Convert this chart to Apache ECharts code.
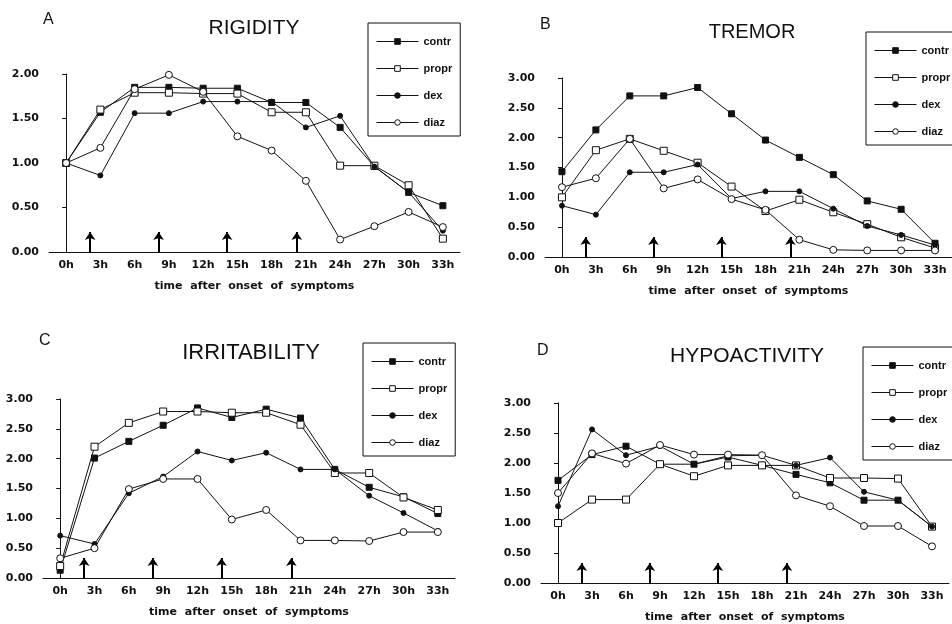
<!DOCTYPE html>
<html>
<head>
<meta charset="utf-8">
<script src="https://cdn.jsdelivr.net/npm/echarts@6/dist/echarts.min.js"></script>
<style>
  html, body { margin: 0; padding: 0; background: #fff; }
  #chart { width: 952px; height: 624px; }
</style>
</head>
<body>
<div id="chart"></div>
<script>
// categories
const hours = ['0h', '3h', '6h', '9h', '12h', '15h', '18h', '21h', '24h', '27h', '30h', '33h']
const groups = ['contr', 'propr', 'dex', 'diaz']
// drug administration times (hours after onset)
const arrowHours = [2.1, 8.1, 14.1, 20.2]

// A - rigidity
const rigContr = [1.00, 1.57, 1.85, 1.85, 1.84, 1.84, 1.68, 1.68, 1.40, 0.96, 0.67, 0.52]
const rigPropr = [1.00, 1.60, 1.79, 1.79, 1.78, 1.78, 1.57, 1.57, 0.97, 0.97, 0.75, 0.15]
const rigDex = [1.00, 0.86, 1.56, 1.56, 1.69, 1.69, 1.69, 1.40, 1.53, 0.96, 0.67, 0.24]
const rigDiaz = [1.00, 1.17, 1.83, 1.99, 1.80, 1.30, 1.14, 0.80, 0.14, 0.29, 0.45, 0.28]

// B - tremor
const treContr = [1.43, 2.13, 2.70, 2.70, 2.84, 2.40, 1.96, 1.67, 1.38, 0.94, 0.80, 0.23]
const trePropr = [1.00, 1.79, 1.98, 1.78, 1.58, 1.18, 0.77, 0.96, 0.75, 0.55, 0.33, 0.15]
const treDex = [0.86, 0.71, 1.42, 1.42, 1.55, 0.98, 1.10, 1.10, 0.81, 0.52, 0.37, 0.20]
const treDiaz = [1.17, 1.32, 1.98, 1.15, 1.30, 0.97, 0.79, 0.29, 0.12, 0.11, 0.11, 0.11]

// C - irritability
const irrContr = [0.13, 2.01, 2.29, 2.56, 2.85, 2.69, 2.83, 2.68, 1.82, 1.52, 1.36, 1.08]
const irrPropr = [0.20, 2.20, 2.60, 2.79, 2.79, 2.77, 2.77, 2.57, 1.76, 1.76, 1.35, 1.14]
const irrDex = [0.71, 0.57, 1.42, 1.70, 2.12, 1.97, 2.10, 1.82, 1.82, 1.38, 1.09, 0.79]
const irrDiaz = [0.33, 0.50, 1.49, 1.66, 1.66, 0.98, 1.14, 0.63, 0.63, 0.62, 0.77, 0.77]

// D - hypoactivity
const hypContr = [1.71, 2.14, 2.28, 1.98, 1.98, 2.10, 1.96, 1.81, 1.67, 1.38, 1.38, 0.94]
const hypPropr = [1.00, 1.39, 1.39, 1.98, 1.78, 1.96, 1.96, 1.96, 1.75, 1.75, 1.74, 0.94]
const hypDex = [1.28, 2.56, 2.13, 2.28, 1.98, 2.12, 2.13, 1.96, 2.09, 1.52, 1.38, 0.94]
const hypDiaz = [1.50, 2.16, 1.99, 2.30, 2.14, 2.14, 2.13, 1.46, 1.28, 0.95, 0.95, 0.61]

const panels = [
  { title: 'RIGIDITY', letter: 'A', yMax: 2, data: [rigContr, rigPropr, rigDex, rigDiaz],
    grid: { left: 49, top: 74, width: 411, height: 178 },
    titleAt: [254, 18], titleSize: 21, letterAt: [43, 12], legendAt: [368, 23] },
  { title: 'TREMOR', letter: 'B', yMax: 3, data: [treContr, trePropr, treDex, treDiaz],
    grid: { left: 545, top: 78, width: 409, height: 179 },
    titleAt: [752, 22], titleSize: 20, letterAt: [540, 17], legendAt: [866, 32] },
  { title: 'IRRITABILITY', letter: 'C', yMax: 3, data: [irrContr, irrPropr, irrDex, irrDiaz],
    grid: { left: 43, top: 399, width: 412, height: 179 },
    titleAt: [251, 342], titleSize: 22, letterAt: [39, 333], legendAt: [363, 343] },
  { title: 'HYPOACTIVITY', letter: 'D', yMax: 3, data: [hypContr, hypPropr, hypDex, hypDiaz],
    grid: { left: 541, top: 403, width: 408, height: 180 },
    titleAt: [747, 346], titleSize: 21, letterAt: [537, 343], legendAt: [863, 347] },
]

const marks = {
  contr: { symbol: 'rect', size: 6, fill: '#111' },
  propr: { symbol: 'rect', size: 7, fill: '#fff' },
  dex: { symbol: 'circle', size: 5, fill: '#111' },
  diaz: { symbol: 'circle', size: 7, fill: '#fff' },
}

const ink = '#111'
const labelFont = { color: ink, fontFamily: 'DejaVu Sans', fontWeight: 'bold', fontSize: 11 }

const titles = []
const grids = []
const xAxes = []
const yAxes = []
const legends = []
const series = []

panels.forEach((p, i) => {
  titles.push({
    text: p.title, left: p.titleAt[0], top: p.titleAt[1], textAlign: 'center', padding: 0,
    textStyle: { fontFamily: 'Liberation Sans', fontWeight: 'normal', fontSize: p.titleSize, color: ink },
  })
  titles.push({
    text: p.letter, left: p.letterAt[0], top: p.letterAt[1], padding: 0,
    textStyle: { fontFamily: 'Liberation Sans', fontWeight: 'normal', fontSize: 16, color: ink },
  })
  grids.push(p.grid)
  xAxes.push({
    type: 'category', gridIndex: i, data: hours, boundaryGap: true,
    name: 'time  after  onset  of  symptoms', nameLocation: 'middle', nameGap: 29,
    nameTextStyle: labelFont,
    axisLine: { lineStyle: { color: ink, width: 1 } },
    axisTick: { alignWithLabel: true, length: 4, lineStyle: { color: ink } },
    axisLabel: Object.assign({ margin: 8 }, labelFont),
    splitLine: { show: false },
  })
  yAxes.push({
    type: 'value', gridIndex: i, min: 0, max: p.yMax, interval: 0.5,
    axisLine: { show: true, lineStyle: { color: ink, width: 1 } },
    axisTick: { show: true, length: 4, lineStyle: { color: ink } },
    axisLabel: Object.assign({ margin: 10, formatter: v => v.toFixed(2) }, labelFont),
    splitLine: { show: false },
  })
  legends.push({
    data: groups, orient: 'vertical', left: p.legendAt[0], top: p.legendAt[1],
    selectedMode: false, itemWidth: 42, itemHeight: 7, itemGap: 16,
    padding: [13, 8, 8, 8], borderColor: ink, borderWidth: 1, backgroundColor: '#fff',
    lineStyle: { width: 1, color: ink },
    itemStyle: { borderWidth: 1, borderColor: ink },
    textStyle: { fontFamily: 'Liberation Sans', fontWeight: 'bold', fontSize: 11, color: ink },
  })
  groups.forEach((g, k) => {
    const m = marks[g]
    series.push({
      name: g, type: 'line', xAxisIndex: i, yAxisIndex: i, data: p.data[k],
      symbol: m.symbol, symbolSize: m.size, showSymbol: true, z: 3 + k,
      lineStyle: { color: ink, width: 1 },
      itemStyle: { color: m.fill, borderColor: ink, borderWidth: 1 },
    })
  })
})

// hidden value axes (in category index units) carrying the arrows
panels.forEach((p, i) => {
  xAxes.push({ type: 'value', gridIndex: i, min: -0.5, max: 11.5, show: false })
  const tip = p.yMax * 20 / p.grid.height
  series.push({
    type: 'lines', coordinateSystem: 'cartesian2d', xAxisIndex: panels.length + i, yAxisIndex: i,
    symbol: ['none', 'arrow'], symbolSize: [0, 8], silent: true,
    lineStyle: { color: '#000', width: 2, opacity: 1 },
    data: arrowHours.map(h => ({ coords: [[h / 3, 0], [h / 3, tip]] })),
  })
})

const chart = echarts.init(document.getElementById('chart'))
chart.setOption({
  animation: false,
  backgroundColor: '#fff',
  title: titles,
  grid: grids,
  xAxis: xAxes,
  yAxis: yAxes,
  legend: legends,
  series: series,
})
</script>
</body>
</html>
